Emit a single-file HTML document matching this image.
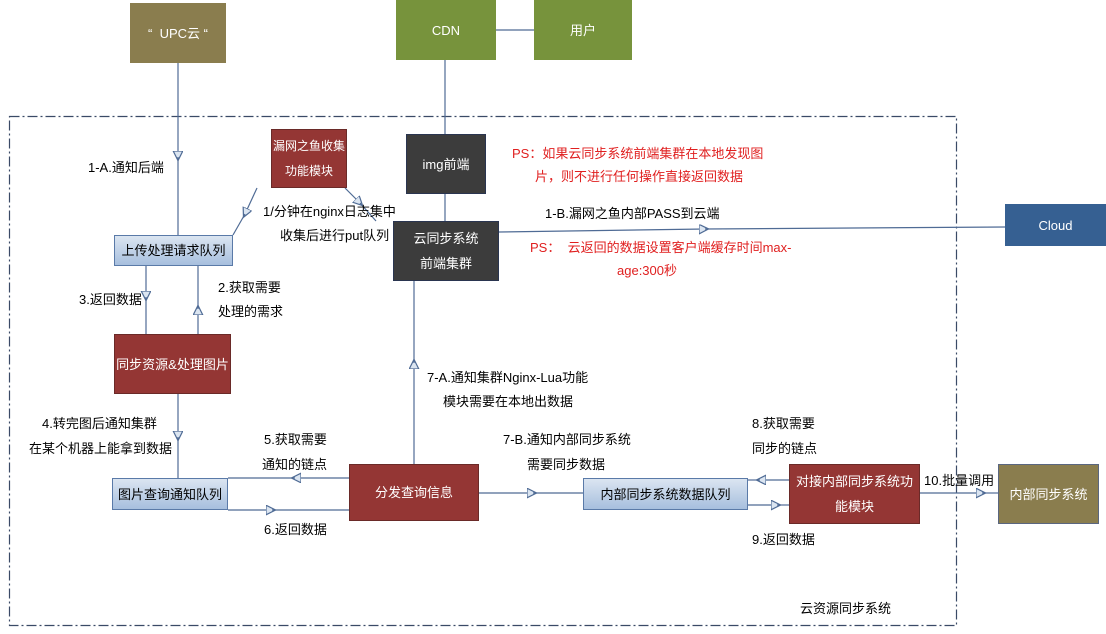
<!DOCTYPE html>
<html><head><meta charset="utf-8"><style>
body{margin:0;width:1106px;height:634px;background:#fff;position:relative;overflow:hidden;font-family:"Liberation Sans","Noto Sans CJK SC",sans-serif;font-size:13px;color:#000}
.b{position:absolute;display:flex;align-items:center;justify-content:center;text-align:center;color:#fff;line-height:25px;box-sizing:border-box;white-space:nowrap}
.red{background:#943634;border:1px solid #6a2a28}
.dk{background:#3c3c3c;border:1px solid #2a3550}
.q{background:linear-gradient(#dbe5f1,#a7bfde);border:1px solid #5a7aa8;color:#000}
.ol{background:#8a7d4e;border:1px solid #5a6680}
.gr{background:#77933c}
.t{position:absolute;white-space:nowrap;line-height:24px}
.r{color:#e02020}
svg{position:absolute;left:0;top:0}
</style></head><body>
<svg width="1106" height="634">
<defs><marker id="a" markerWidth="10" markerHeight="10" refX="5" refY="4" orient="auto"><path d="M0,0 L8,4 L0,8 Z" fill="#dbe5f1" stroke="#4f6b95" stroke-width="1"/></marker></defs>
<g stroke="#4f6b95" stroke-width="1.2" fill="none">
<rect x="9.5" y="116.5" width="947" height="509" stroke="#3a4a66" stroke-dasharray="10,3,2,3"/>
<path d="M178 63 V157" marker-end="url(#a)"/><path d="M178 157 V235"/>
<path d="M445 60 V134 M445 194 V221 M496 30 H534"/>
<path d="M499 232 L705 229" marker-end="url(#a)"/><path d="M705 229 L1005 227"/>
<path d="M257 188 L245 214" marker-end="url(#a)"/><path d="M245 214 L233 235"/>
<path d="M345 188 L360 203" marker-end="url(#a)"/><path d="M360 203 L376 221"/>
<path d="M146 266 V297" marker-end="url(#a)"/><path d="M146 297 V334"/>
<path d="M198 334 V309" marker-end="url(#a)"/><path d="M198 309 V266"/>
<path d="M178 394 V437" marker-end="url(#a)"/><path d="M178 437 V478"/>
<path d="M414 464 V363" marker-end="url(#a)"/><path d="M414 363 V281"/>
<path d="M349 478 H295" marker-end="url(#a)"/><path d="M295 478 H228"/>
<path d="M228 510 H272" marker-end="url(#a)"/><path d="M272 510 H349"/>
<path d="M479 493 H533" marker-end="url(#a)"/><path d="M533 493 H583"/>
<path d="M789 480 H760" marker-end="url(#a)"/><path d="M760 480 H748"/>
<path d="M748 505 H777" marker-end="url(#a)"/><path d="M777 505 H789"/>
<path d="M920 493 H982" marker-end="url(#a)"/><path d="M982 493 H998"/>
</g></svg>
<div class="b ol" style="left:130px;top:3px;width:96px;height:60px;border:none">“&nbsp; UPC云 “</div>
<div class="b gr" style="left:396px;top:0;width:100px;height:60px">CDN</div>
<div class="b gr" style="left:534px;top:0;width:98px;height:60px">用户</div>
<div class="b red" style="left:271px;top:129px;width:76px;height:59px;font-size:12px">漏网之鱼收集<br>功能模块</div>
<div class="b dk" style="left:406px;top:134px;width:80px;height:60px">img前端</div>
<div class="b dk" style="left:393px;top:221px;width:106px;height:60px">云同步系统<br>前端集群</div>
<div class="b q" style="left:114px;top:235px;width:119px;height:31px">上传处理请求队列</div>
<div class="b red" style="left:114px;top:334px;width:117px;height:60px">同步资源&amp;处理图片</div>
<div class="b q" style="left:112px;top:478px;width:116px;height:32px">图片查询通知队列</div>
<div class="b red" style="left:349px;top:464px;width:130px;height:57px">分发查询信息</div>
<div class="b q" style="left:583px;top:478px;width:165px;height:32px">内部同步系统数据队列</div>
<div class="b red" style="left:789px;top:464px;width:131px;height:60px">对接内部同步系统功<br>能模块</div>
<div class="b ol" style="left:998px;top:464px;width:101px;height:60px">内部同步系统</div>
<div class="b" style="left:1005px;top:204px;width:101px;height:42px;background:#366092">Cloud</div>
<div class="t" style="left:88px;top:156px">1-A.通知后端</div>
<div class="t" style="left:263px;top:200px">1/分钟在nginx日志集中</div>
<div class="t" style="left:280px;top:224px">收集后进行put队列</div>
<div class="t" style="left:79px;top:288px">3.返回数据</div>
<div class="t" style="left:218px;top:276px">2.获取需要<br>处理的需求</div>
<div class="t r" style="left:512px;top:142px">PS：如果云同步系统前端集群在本地发现图</div>
<div class="t r" style="left:535px;top:165px">片，则不进行任何操作直接返回数据</div>
<div class="t" style="left:545px;top:202px">1-B.漏网之鱼内部PASS到云端</div>
<div class="t r" style="left:530px;top:236px">PS：&nbsp; 云返回的数据设置客户端缓存时间max-</div>
<div class="t r" style="left:617px;top:259px">age:300秒</div>
<div class="t" style="left:427px;top:366px">7-A.通知集群Nginx-Lua功能</div>
<div class="t" style="left:443px;top:390px">模块需要在本地出数据</div>
<div class="t" style="left:42px;top:412px">4.转完图后通知集群</div>
<div class="t" style="left:29px;top:437px">在某个机器上能拿到数据</div>
<div class="t" style="left:264px;top:428px">5.获取需要</div>
<div class="t" style="left:262px;top:453px">通知的链点</div>
<div class="t" style="left:503px;top:428px">7-B.通知内部同步系统</div>
<div class="t" style="left:527px;top:453px">需要同步数据</div>
<div class="t" style="left:752px;top:412px">8.获取需要</div>
<div class="t" style="left:752px;top:437px">同步的链点</div>
<div class="t" style="left:924px;top:469px">10.批量调用</div>
<div class="t" style="left:264px;top:518px">6.返回数据</div>
<div class="t" style="left:752px;top:528px">9.返回数据</div>
<div class="t" style="left:800px;top:597px">云资源同步系统</div>
</body></html>
